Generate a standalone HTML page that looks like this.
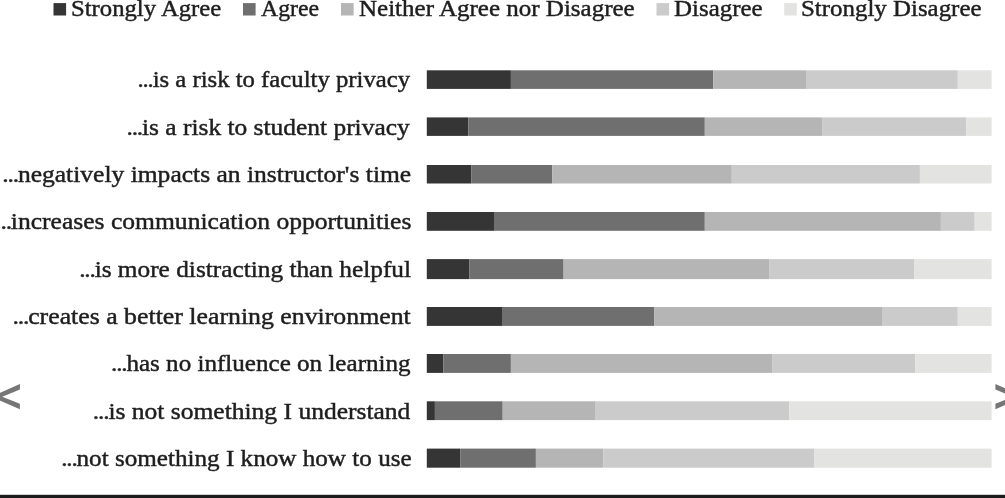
<!DOCTYPE html>
<html><head><meta charset="utf-8"><title>Chart</title>
<style>
html,body{margin:0;padding:0;background:#fff;}
body{width:1005px;height:498px;position:relative;overflow:hidden;font-family:"Liberation Serif",serif;}
.t{position:absolute;white-space:nowrap;font-size:23.5px;line-height:30px;color:#1e1e1e;-webkit-text-stroke:0.45px #1e1e1e;will-change:transform;filter:blur(0.4px);}
.r{transform-origin:100% 50%;}
.l{transform-origin:0 50%;}
.d{letter-spacing:-1.1px;}
svg{position:absolute;left:-10px;top:-10px;filter:blur(0.4px);}
</style></head><body>

<div class="t l" style="left:71.28px;top:-6.73px;transform:scaleX(1.0509)">Strongly Agree</div>
<div class="t l" style="left:261.29px;top:-6.73px;transform:scaleX(1.0101)">Agree</div>
<div class="t l" style="left:359.34px;top:-6.73px;transform:scaleX(1.0644)">Neither Agree nor Disagree</div>
<div class="t l" style="left:674.49px;top:-6.73px;transform:scaleX(1.0612)">Disagree</div>
<div class="t l" style="left:801.36px;top:-6.73px;transform:scaleX(1.0598)">Strongly Disagree</div>
<div class="t r" style="right:594.60px;top:64.27px;transform:scaleX(1.0519)"><span class="d">...</span>is a risk to faculty privacy</div>
<div class="t r" style="right:595.03px;top:111.60px;transform:scaleX(1.0821)"><span class="d">...</span>is a risk to student privacy</div>
<div class="t r" style="right:594.21px;top:158.93px;transform:scaleX(1.0869)"><span class="d">...</span>negatively impacts an instructor's time</div>
<div class="t r" style="right:593.78px;top:206.26px;transform:scaleX(1.0883)"><span class="d">...</span>increases communication opportunities</div>
<div class="t r" style="right:594.12px;top:253.59px;transform:scaleX(1.0773)"><span class="d">...</span>is more distracting than helpful</div>
<div class="t r" style="right:594.56px;top:300.92px;transform:scaleX(1.0981)"><span class="d">...</span>creates a better learning environment</div>
<div class="t r" style="right:594.35px;top:348.25px;transform:scaleX(1.0673)"><span class="d">...</span>has no influence on learning</div>
<div class="t r" style="right:594.51px;top:395.58px;transform:scaleX(1.0861)"><span class="d">...</span>is not something I understand</div>
<div class="t r" style="right:593.72px;top:442.91px;transform:scaleX(1.0696)"><span class="d">...</span>not something I know how to use</div>
<svg width="1025" height="518" viewBox="-10 -10 1025 518">
<rect x="53.5" y="3.1" width="12.6" height="12.4" fill="#353535"/>
<rect x="243.0" y="3.1" width="12.6" height="12.4" fill="#6f6f6f"/>
<rect x="341.0" y="3.1" width="12.6" height="12.4" fill="#b5b5b5"/>
<rect x="656.5" y="3.1" width="12.6" height="12.4" fill="#cbcbcb"/>
<rect x="784.2" y="3.1" width="12.6" height="12.4" fill="#e3e3e1"/>
<rect x="426.8" y="70.3" width="84.1" height="18.6" fill="#353535"/>
<rect x="510.9" y="70.3" width="202.3" height="18.6" fill="#6f6f6f"/>
<rect x="713.2" y="70.3" width="92.8" height="18.6" fill="#b5b5b5"/>
<rect x="806.0" y="70.3" width="151.8" height="18.6" fill="#cbcbcb"/>
<rect x="957.8" y="70.3" width="33.8" height="18.6" fill="#e3e3e1"/>
<rect x="426.8" y="117.4" width="41.5" height="18.5" fill="#353535"/>
<rect x="468.3" y="117.4" width="236.5" height="18.5" fill="#6f6f6f"/>
<rect x="704.8" y="117.4" width="117.8" height="18.5" fill="#b5b5b5"/>
<rect x="822.6" y="117.4" width="143.6" height="18.5" fill="#cbcbcb"/>
<rect x="966.2" y="117.4" width="25.4" height="18.5" fill="#e3e3e1"/>
<rect x="426.8" y="165.0" width="44.7" height="18.5" fill="#353535"/>
<rect x="471.5" y="165.0" width="80.7" height="18.5" fill="#6f6f6f"/>
<rect x="552.2" y="165.0" width="179.6" height="18.5" fill="#b5b5b5"/>
<rect x="731.8" y="165.0" width="188.1" height="18.5" fill="#cbcbcb"/>
<rect x="919.9" y="165.0" width="71.7" height="18.5" fill="#e3e3e1"/>
<rect x="426.8" y="212.0" width="67.2" height="18.8" fill="#353535"/>
<rect x="494.0" y="212.0" width="210.8" height="18.8" fill="#6f6f6f"/>
<rect x="704.8" y="212.0" width="236.1" height="18.8" fill="#b5b5b5"/>
<rect x="940.9" y="212.0" width="33.8" height="18.8" fill="#cbcbcb"/>
<rect x="974.7" y="212.0" width="16.9" height="18.8" fill="#e3e3e1"/>
<rect x="426.8" y="259.1" width="42.7" height="20.0" fill="#353535"/>
<rect x="469.5" y="259.1" width="94.1" height="20.0" fill="#6f6f6f"/>
<rect x="563.6" y="259.1" width="205.5" height="20.0" fill="#b5b5b5"/>
<rect x="769.1" y="259.1" width="145.0" height="20.0" fill="#cbcbcb"/>
<rect x="914.1" y="259.1" width="77.5" height="20.0" fill="#e3e3e1"/>
<rect x="426.8" y="307.0" width="75.9" height="18.9" fill="#353535"/>
<rect x="502.7" y="307.0" width="151.7" height="18.9" fill="#6f6f6f"/>
<rect x="654.4" y="307.0" width="227.6" height="18.9" fill="#b5b5b5"/>
<rect x="882.0" y="307.0" width="75.8" height="18.9" fill="#cbcbcb"/>
<rect x="957.8" y="307.0" width="33.8" height="18.9" fill="#e3e3e1"/>
<rect x="426.8" y="354.0" width="16.5" height="18.9" fill="#353535"/>
<rect x="443.3" y="354.0" width="67.6" height="18.9" fill="#6f6f6f"/>
<rect x="510.9" y="354.0" width="261.7" height="18.9" fill="#b5b5b5"/>
<rect x="772.6" y="354.0" width="142.7" height="18.9" fill="#cbcbcb"/>
<rect x="915.3" y="354.0" width="76.3" height="18.9" fill="#e3e3e1"/>
<rect x="426.8" y="401.3" width="8.1" height="18.8" fill="#353535"/>
<rect x="434.9" y="401.3" width="67.8" height="18.8" fill="#6f6f6f"/>
<rect x="502.7" y="401.3" width="92.3" height="18.8" fill="#b5b5b5"/>
<rect x="595.0" y="401.3" width="194.2" height="18.8" fill="#cbcbcb"/>
<rect x="789.2" y="401.3" width="202.4" height="18.8" fill="#e3e3e1"/>
<rect x="426.8" y="448.6" width="33.4" height="19.1" fill="#353535"/>
<rect x="460.2" y="448.6" width="75.7" height="19.1" fill="#6f6f6f"/>
<rect x="535.9" y="448.6" width="67.6" height="19.1" fill="#b5b5b5"/>
<rect x="603.5" y="448.6" width="211.0" height="19.1" fill="#cbcbcb"/>
<rect x="814.5" y="448.6" width="177.1" height="19.1" fill="#e3e3e1"/>
<polygon fill="#767676" points="19.9,384 -8.8,396.7 19.9,409.3 19.9,403.8 2.2,396.7 19.9,389.6"/>
<polygon fill="#767676" points="995.4,384 1024.1,396.7 995.4,409.3 995.4,403.8 1013.1,396.7 995.4,389.6"/>
<rect x="-10" y="494.8" width="1025" height="14" fill="#1c1c1c"/>
</svg>
</body></html>
